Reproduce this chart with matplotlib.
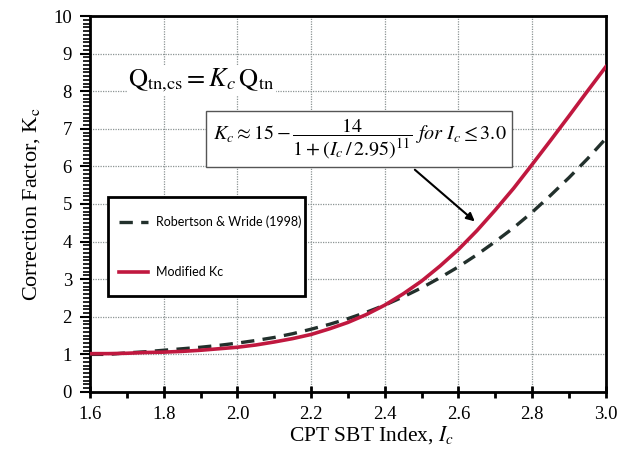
import matplotlib
matplotlib.use("Agg")
import matplotlib.pyplot as plt
from matplotlib.patches import Rectangle

plt.rcParams["font.family"] = "Liberation Serif"
plt.rcParams["mathtext.fontset"] = "stix"

# CPT SBT index values
ic = [1.60, 1.65, 1.70, 1.75, 1.80, 1.85, 1.90, 1.95, 2.00, 2.05,
      2.10, 2.15, 2.20, 2.25, 2.30, 2.35, 2.40, 2.45, 2.50, 2.55,
      2.60, 2.65, 2.70, 2.75, 2.80, 2.85, 2.90, 2.95, 3.00]

# Robertson & Wride (1998) correction factor
kc_rw = [1.00, 1.00, 1.04, 1.07, 1.11, 1.15, 1.19, 1.24, 1.30, 1.37,
         1.45, 1.55, 1.67, 1.80, 1.95, 2.12, 2.31, 2.53, 2.77, 3.04,
         3.33, 3.65, 4.00, 4.37, 4.78, 5.23, 5.70, 6.20, 6.74]

# modified correction factor
kc_mod = [1.02, 1.02, 1.03, 1.05, 1.06, 1.08, 1.11, 1.15, 1.19, 1.25,
          1.33, 1.42, 1.53, 1.68, 1.85, 2.06, 2.31, 2.61, 2.95, 3.35,
          3.79, 4.29, 4.84, 5.42, 6.05, 6.69, 7.34, 8.00, 8.65]

legend_labels = ["Robertson & Wride (1998)", "Modified Kc"]

fig = plt.figure(figsize=(6.19, 4.55), dpi=100)
ax = fig.add_axes([0.1454, 0.1385, 0.8333, 0.8263])

ax.plot(ic, kc_rw, color="#22302c", linewidth=2.4, dashes=(4, 2.5),
        label=legend_labels[0], zorder=3)
ax.plot(ic, kc_mod, color="#c0183f", linewidth=2.6,
        label=legend_labels[1], zorder=4)

ax.set_xlim(1.6, 3.0)
ax.set_ylim(0, 10)
ax.set_xticks([1.6, 1.8, 2.0, 2.2, 2.4, 2.6, 2.8, 3.0])
ax.set_xticklabels(["1.6", "1.8", "2.0", "2.2", "2.4", "2.6", "2.8", "3.0"])
ax.set_xticks([1.7, 1.9, 2.1, 2.3, 2.5, 2.7, 2.9], minor=True)
ax.set_yticks(range(0, 11))
ax.set_yticks([i / 10 for i in range(0, 101)], minor=True)
plt.setp(ax.get_xticklabels() + ax.get_yticklabels(),
         fontfamily="Liberation Serif")

ax.tick_params(axis="x", which="major", direction="inout", length=8,
               width=2, labelsize=13.5, pad=6)
ax.tick_params(axis="x", which="minor", direction="out", length=4, width=2)
ax.tick_params(axis="y", which="major", direction="out", length=7,
               width=1.5, labelsize=13.5, pad=6)
ax.tick_params(axis="y", which="minor", direction="out", length=5, width=1.2)

for s in ax.spines.values():
    s.set_linewidth(2)

ax.grid(True, which="major", color="#8c9494", linestyle=(0, (1, 1)),
        linewidth=0.9)
ax.set_axisbelow(True)

ax.set_xlabel(r"CPT SBT Index, $I_c$", fontsize=15.5, labelpad=1)
ax.xaxis.set_label_coords(0.545, -0.085)
ax.set_ylabel(r"Correction Factor, K$_\mathrm{c}$", fontsize=16, labelpad=8)

ax.text(1.703, 8.3,
        r"$\mathrm{Q}_{\mathrm{tn{,}cs}} = K_c\,\mathrm{Q}_{\mathrm{tn}}$",
        fontsize=19, ha="left", va="center", zorder=5,
        bbox=dict(facecolor="white", edgecolor="none", pad=1))

ax.text(2.331, 6.73,
        r"$K_c \approx 15 - \dfrac{14}{1 + (I_c\,/\,2.95)^{11}}\ \mathit{for}\ I_c \leq 3.0$",
        fontsize=14.5, ha="center", va="center", zorder=5,
        bbox=dict(boxstyle="square,pad=0.3", facecolor="white",
                  edgecolor="#555555", linewidth=1))

ax.annotate("", xy=(2.650, 4.49), xytext=(2.476, 5.96),
            arrowprops=dict(arrowstyle="-|>", color="black", lw=1.5,
                            mutation_scale=12), zorder=5)

# legend box
ax.add_patch(Rectangle((0.035, 0.254), 0.382, 0.264, transform=ax.transAxes,
                       facecolor="white", edgecolor="black", linewidth=2,
                       zorder=5))
leg = ax.legend(loc="center left", bbox_to_anchor=(0.035, 0.386),
                frameon=False, prop={"family": "Lato", "size": 9},
                handlelength=2.3, handletextpad=0.6, labelspacing=3.0,
                borderpad=0.4)
leg.set_zorder(6)

fig.savefig("out.png", dpi=100)
